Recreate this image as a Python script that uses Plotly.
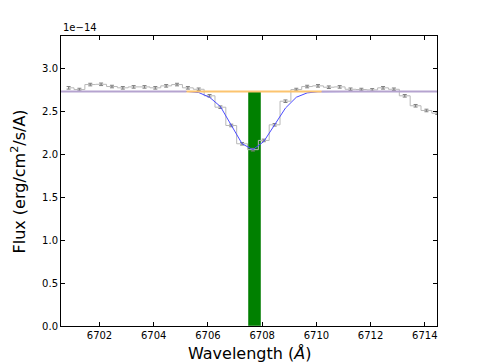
import plotly.graph_objects as go

# spectrum around the Li 6708 line (flux in units of 1e-14)
wave = [6700.86 + 0.4 * i for i in range(35)]
flux = [2.776, 2.756, 2.814, 2.817, 2.791, 2.776, 2.787, 2.787, 2.776, 2.799,
        2.814, 2.776, 2.759, 2.683, 2.550, 2.337, 2.124, 2.055, 2.163, 2.345,
        2.620, 2.756, 2.791, 2.799, 2.783, 2.787, 2.759, 2.756, 2.752, 2.776,
        2.759, 2.683, 2.567, 2.512, 2.480]
flux_err = [0.015] * 35

# fitted model at the same bins
model = [2.733, 2.733, 2.733, 2.733, 2.733, 2.733, 2.733, 2.733, 2.733, 2.733,
         2.733, 2.733, 2.721, 2.666, 2.558, 2.337, 2.124, 2.055, 2.150, 2.345,
         2.540, 2.666, 2.717, 2.730, 2.733, 2.733, 2.733, 2.733, 2.733, 2.733,
         2.733, 2.733, 2.733, 2.733, 2.733]

continuum = 2.733
cont_left = [6700.58, 6705.2]
line_region = [6705.2, 6710.2]
cont_right = [6710.2, 6714.45]
li_center = 6707.73
li_width = 0.45

fig = go.Figure()

fig.add_trace(go.Bar(x=[li_center], y=[continuum], width=[li_width],
                     marker=dict(color="#008000", line=dict(color="#3a9a3a", width=1))))

fig.add_trace(go.Scatter(x=wave, y=flux, mode="lines", line_shape="hvh",
                         line=dict(color="#b8b8b8", width=1)))
fig.add_trace(go.Scatter(x=wave, y=flux, mode="markers",
                         marker=dict(size=1, color="#888888"),
                         error_y=dict(type="data", array=flux_err, color="#808080",
                                      thickness=1, width=2)))

fig.add_trace(go.Scatter(x=wave, y=model, mode="lines",
                         line=dict(color="#4a4aff", width=1)))

fig.add_trace(go.Scatter(x=line_region, y=[continuum] * 2, mode="lines",
                         line=dict(color="#fcc46f", width=2)))
for seg in (cont_left, cont_right):
    fig.add_trace(go.Scatter(x=seg, y=[continuum] * 2, mode="lines",
                             line=dict(color="#b5a3cf", width=2)))

axis_style = dict(showline=True, linecolor="black", linewidth=1, mirror="ticks",
                  ticks="inside", ticklen=4, tickcolor="black", showgrid=False,
                  zeroline=False, tickfont=dict(size=10, color="black"))

# page body has an 8px margin, so the figure is a bit smaller than the window
fig.update_layout(
    width=477, height=355,
    margin=dict(l=53, r=48, t=28, b=37),
    plot_bgcolor="white", paper_bgcolor="white",
    showlegend=False,
    font=dict(family="DejaVu Sans", color="black"),
    bargap=0,
    xaxis=dict(range=[6700.58, 6714.45], tickvals=[6702, 6704, 6706, 6708, 6710, 6712, 6714],
               **axis_style),
    yaxis=dict(range=[0, 3.38], tickvals=[0, 0.5, 1, 1.5, 2, 2.5, 3],
               tickformat=".1f", **axis_style),
    annotations=[
        dict(text="1e\u221214", x=0, y=1, xref="paper", yref="paper",
             xanchor="left", yanchor="bottom", showarrow=False,
             font=dict(size=10), yshift=1),
        dict(text="Wavelength (<i>Å</i>)", x=0.5, y=0, xref="paper", yref="paper",
             xanchor="center", yanchor="top", showarrow=False,
             font=dict(size=16), yshift=-16),
        dict(text="Flux (erg/cm<sup>2</sup>/s/A)", x=0, y=0.5, xref="paper", yref="paper",
             xanchor="right", yanchor="middle", showarrow=False, textangle=-90,
             font=dict(size=16), xshift=-30),
    ],
)

fig.write_html("out.html")
